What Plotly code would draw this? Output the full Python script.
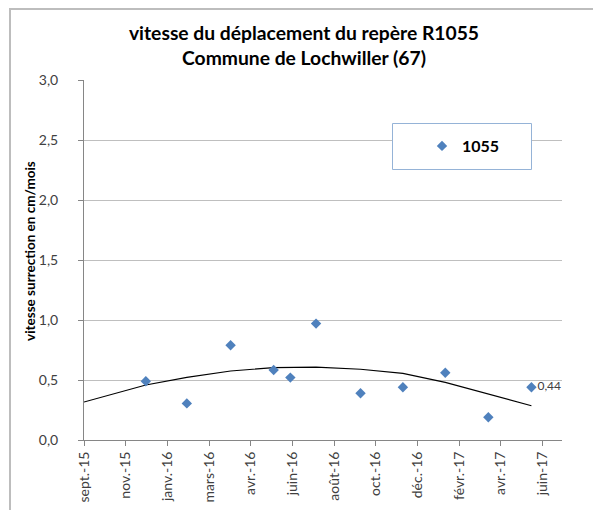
import plotly.graph_objects as go
from datetime import date, timedelta

# ---- data ----
dates = ["2015-12-01", "2016-01-29", "2016-04-01", "2016-06-02", "2016-06-26",
         "2016-08-02", "2016-10-05", "2016-12-05", "2017-02-04", "2017-04-07",
         "2017-06-08"]
vitesse = [0.49, 0.305, 0.79, 0.583, 0.52, 0.97, 0.39, 0.44, 0.56, 0.19, 0.44]

trend_dates = ["2015-09-03", "2015-12-01", "2016-01-29", "2016-04-01", "2016-06-02",
               "2016-08-02", "2016-10-05", "2016-12-05", "2017-02-04", "2017-04-07",
               "2017-06-08"]
trend_vals = [0.317, 0.458, 0.522, 0.575, 0.603, 0.607, 0.589, 0.555, 0.48, 0.386, 0.286]

tick_labels = ["sept.-15", "nov.-15", "janv.-16", "mars-16", "avr.-16", "juin-16",
               "août-16", "oct.-16", "déc.-16", "févr.-17", "avr.-17", "juin-17"]
axis_start = date(2015, 9, 3)
axis_end = date(2017, 7, 22)
tick_step_days = 60

series_name = "1055"
title_lines = ["vitesse du déplacement du repère R1055", "Commune de Lochwiller (67)"]
y_title = "vitesse surrection en cm/mois"

tick_vals = [(axis_start + timedelta(days=tick_step_days * i)).isoformat()
             for i in range(len(tick_labels))]
labels = [""] * (len(vitesse) - 1) + [f"{vitesse[-1]:.2f}".replace(".", ",")]

FONT = "Lato, Calibri, Carlito, sans-serif"
BLUE = "#4F81BD"

fig = go.Figure()
fig.add_trace(go.Scatter(
    x=trend_dates, y=trend_vals, mode="lines",
    line=dict(color="black", width=1.1), showlegend=False, hoverinfo="skip"))
fig.add_trace(go.Scatter(
    x=dates, y=vitesse, mode="markers+text", name=series_name,
    marker=dict(symbol="diamond", size=8, color=BLUE),
    text=labels, textposition="middle right",
    textfont=dict(family=FONT, size=12, color="#404040")))

# plot area in px: left 84, right 562, top 80, bottom 440
L, R, T, B = 84, 562, 80, 440
W, H = R - L, B - T
px = lambda x: (x - L) / W
py = lambda y: (B - y) / H

fig.update_layout(
    width=593, height=510,
    margin=dict(l=L, r=593 - R, t=T, b=510 - B, autoexpand=False),
    paper_bgcolor="white", plot_bgcolor="white",
    separators=",.",
    font=dict(family=FONT, size=12, color="#404040"),
    title=dict(text="<b>" + "<br>".join(title_lines) + "</b>",
               x=304 / 593, xref="container", xanchor="center",
               y=1 - 40 / 510, yref="container", yanchor="middle",
               font=dict(family=FONT, size=19.3, color="black")),
    xaxis=dict(type="date", range=[axis_start.isoformat(), axis_end.isoformat()],
               tickmode="array", tickvals=tick_vals, ticktext=tick_labels,
               tickangle=-90, ticks="outside", ticklen=5, tickcolor="#868686",
               showline=True, linecolor="#868686", linewidth=1,
               showgrid=False, zeroline=False, automargin=False,
               tickfont=dict(family=FONT, size=14, color="#404040")),
    yaxis=dict(range=[0, 3], dtick=0.5, tickformat=".1f",
               ticks="outside", ticklen=5, tickcolor="#868686",
               showline=True, linecolor="#868686", linewidth=1,
               showgrid=True, gridcolor="#BFBFBF", gridwidth=1, zeroline=False,
               automargin=False, ticklabelstandoff=17,
               tickfont=dict(family=FONT, size=14, color="#404040")),
    annotations=[dict(text="<b>" + y_title + "</b>", xref="paper", yref="paper",
                      x=px(30), y=py(251), xanchor="center", yanchor="middle",
                      textangle=-90, showarrow=False,
                      font=dict(family=FONT, size=13.5, color="black"))],
    showlegend=True,
    legend=dict(x=px(422), xanchor="left", y=py(146), yanchor="middle",
                bgcolor="rgba(0,0,0,0)", borderwidth=0,
                font=dict(family=FONT, size=16, color="black", weight="bold")),
    shapes=[
        dict(type="rect", xref="paper", yref="paper",
             x0=px(392.5), x1=px(531.5), y0=py(169.5), y1=py(123.5),
             line=dict(color="#95B3D7", width=1), fillcolor="white", layer="above"),
        dict(type="rect", xref="paper", yref="paper",
             x0=px(10), x1=px(620), y0=py(540), y1=py(9),
             line=dict(color="#BDBDBD", width=2), fillcolor="rgba(0,0,0,0)",
             layer="above"),
    ],
)

fig.write_html("out.html", config={"displayModeBar": False},
               post_script="document.body.style.margin='0';document.body.style.overflow='hidden';")
